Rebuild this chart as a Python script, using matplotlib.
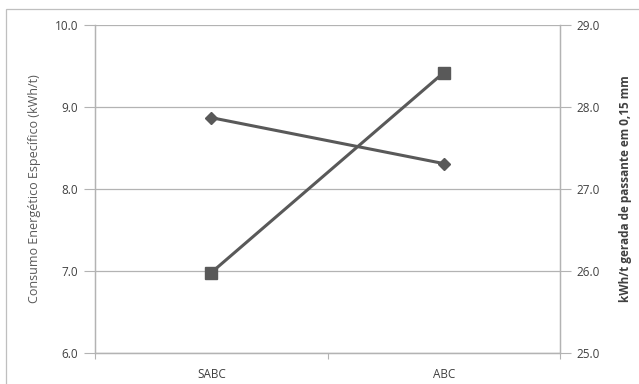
import matplotlib.pyplot as plt
from matplotlib.patches import Rectangle

categorias = ["SABC", "ABC"]
consumo_especifico = [8.87, 8.31]
kwh_passante = [25.98, 28.42]

cinza = "#595959"
grade = "#b3b3b3"
plt.rcParams['font.family'] = ['Open Sans', 'DejaVu Sans']

fig = plt.figure(figsize=(6.39, 3.84), dpi=100)
ax = fig.add_axes([95 / 639, 1 - 353 / 384, 465 / 639, 328 / 384])
ax2 = ax.twinx()

x = [0.5, 1.5]
ax.plot(x, consumo_especifico, color=cinza, lw=2.2, marker='D', ms=6.5, zorder=3)
ax2.plot(x, kwh_passante, color=cinza, lw=2.2, marker='s', ms=8, zorder=3)

ax.set_xlim(0, 2)
ax.set_ylim(6, 10)
ax2.set_ylim(25, 29)
ax.set_yticks([6, 7, 8, 9, 10])
ax2.set_yticks([25, 26, 27, 28, 29])
ax.set_yticklabels([f"{v:.1f}" for v in [6, 7, 8, 9, 10]])
ax2.set_yticklabels([f"{v:.1f}" for v in [25, 26, 27, 28, 29]])
ax.set_xticks([0, 1, 2])
ax.set_xticklabels([])
ax.set_xticks(x, minor=True)
ax.set_xticklabels(categorias, minor=True)
ax.tick_params(axis='x', which='minor', length=0, pad=11, labelsize=8.5, labelcolor='#404040')
ax.tick_params(axis='x', which='major', length=4, color=grade)
ax.tick_params(axis='y', length=8, color=grade, labelsize=8.5, labelcolor='#404040', pad=4)
ax2.tick_params(axis='y', length=8, color=grade, labelsize=8.5, labelcolor='#404040', pad=4)

ax.grid(axis='y', color=grade, lw=0.9)
ax.set_axisbelow(True)
for a in (ax, ax2):
    a.spines['top'].set_visible(False)
    for s in ('left', 'right', 'bottom'):
        a.spines[s].set_color(grade)
        a.spines[s].set_linewidth(0.9)

ax.set_ylabel("Consumo Energético Específico (kWh/t)", fontsize=9, color='#595959', labelpad=10)
ax2.set_ylabel("kWh/t gerada de passante em 0,15 mm", fontsize=8.5, color='#404040',
               fontweight='bold', rotation=90, labelpad=14)

fig.patches.append(Rectangle((6 / 639, -0.01), 1, 1 - 9 / 384 + 0.01, transform=fig.transFigure,
                             fill=False, edgecolor='#bfbfbf', lw=0.9))

fig.savefig("out.png", dpi=100)
